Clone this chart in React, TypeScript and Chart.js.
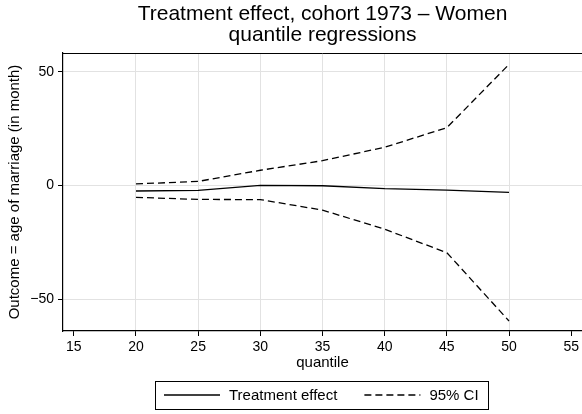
import React, { useEffect, useRef } from "react";
import { Chart, registerables } from "chart.js";

Chart.register(...registerables);

// ---- data ----
const quantiles = [20, 25, 30, 35, 40, 45, 50];
const treatmentEffect = [-2.4, -2.1, 0.1, -0.1, -1.4, -2.0, -3.0];
const ciUpper = [0.7, 1.8, 6.7, 10.9, 16.8, 25.4, 53.2];
const ciLower = [-5.2, -6.1, -6.2, -10.8, -19.2, -29.5, -59.5];
const xTicks = [15, 20, 25, 30, 35, 40, 45, 50, 55];
const yTicks = [-50, 0, 50];
const titleLines = ["Treatment effect, cohort 1973 \u2013 Women", "quantile regressions"];
const xTitle = "quantile";
const yTitle = "Outcome = age of marriage (in month)";
const seriesLabels = ["Treatment effect", "95% CI"];

const FONT = '"Liberation Sans", Arial, Helvetica, sans-serif';
const CI_DASH = [7, 4];
const GRID = "#e2e2e2";

const toPoints = (ys: number[]) => quantiles.map((q, i) => ({ x: q, y: ys[i] }));

const frameTop = {
  id: "frameTop",
  afterDraw(chart: any) {
    const { ctx, chartArea } = chart;
    ctx.save();
    ctx.strokeStyle = "#000";
    ctx.lineWidth = 1;
    const y = Math.round(chartArea.top) + 0.5;
    ctx.beginPath();
    ctx.moveTo(chartArea.left, y);
    ctx.lineTo(chartArea.right, y);
    ctx.stroke();
    ctx.restore();
  },
};

const boxedLegend = {
  id: "boxedLegend",
  afterDraw(chart: any) {
    const { ctx, chartArea } = chart;
    ctx.save();
    ctx.font = `15px ${FONT}`;
    const sample = 56;
    const gap = 9;
    const itemGap = 27;
    const pad = 9;
    const items = seriesLabels.map((label) => {
      const ds = chart.data.datasets.find((d: any) => d.label === label);
      return { label, dash: ds.borderDash || [], width: ds.borderWidth, w: ctx.measureText(label).width };
    });
    const total =
      pad * 2 + items.reduce((s, it) => s + sample + gap + it.w, 0) + itemGap * (items.length - 1);
    const cx = (chartArea.left + chartArea.right) / 2;
    const left = Math.round(cx - total / 2) - 1;
    const top = Math.round(chartArea.bottom + 50);
    const h = 28;
    ctx.strokeStyle = "#000";
    ctx.lineWidth = 1;
    ctx.strokeRect(left + 0.5, top + 0.5, Math.round(total), h);
    let x = left + pad;
    const yMid = top + h / 2;
    items.forEach((it) => {
      ctx.beginPath();
      ctx.setLineDash(it.dash);
      ctx.lineWidth = it.width;
      ctx.moveTo(x, yMid);
      ctx.lineTo(x + sample, yMid);
      ctx.stroke();
      ctx.setLineDash([]);
      x += sample + gap;
      ctx.fillStyle = "#000";
      ctx.textBaseline = "middle";
      ctx.textAlign = "left";
      ctx.fillText(it.label, x, yMid + 0.5);
      x += it.w + itemGap;
    });
    ctx.restore();
  },
};

export default function App() {
  const ref = useRef<HTMLCanvasElement | null>(null);

  useEffect(() => {
    if (!ref.current) return;
    const lineBase = { borderColor: "#000", borderWidth: 1.3, pointRadius: 0, tension: 0, fill: false };
    const chart = new Chart(ref.current, {
      type: "line",
      data: {
        datasets: [
          { ...lineBase, label: seriesLabels[0], data: toPoints(treatmentEffect) },
          { ...lineBase, label: seriesLabels[1], data: toPoints(ciUpper), borderDash: CI_DASH },
          { ...lineBase, label: seriesLabels[1] + " ", data: toPoints(ciLower), borderDash: CI_DASH },
        ],
      },
      options: {
        animation: false,
        responsive: false,
        devicePixelRatio: 1,
        layout: { padding: { top: 0, left: 0, right: 0, bottom: 42 } },
        plugins: {
          legend: { display: false },
          tooltip: { enabled: false },
          title: {
            display: true,
            text: titleLines,
            fullSize: false,
            color: "#000",
            font: { family: FONT, size: 21, weight: "normal", lineHeight: 1.0 },
            padding: { top: 4, bottom: 7 },
          },
        },
        scales: {
          x: {
            type: "linear",
            min: 14.13,
            max: 55.87,
            afterBuildTicks: (s: any) => {
              s.ticks = xTicks.map((v) => ({ value: v }));
            },
            afterFit: (s: any) => {
              s.height = 41;
            },
            ticks: {
              color: "#000",
              font: { family: FONT, size: 14 },
              padding: 3,
              maxRotation: 0,
              autoSkip: false,
            },
            grid: {
              color: (c: any) =>
                c.tick && c.tick.value >= quantiles[0] && c.tick.value <= quantiles[quantiles.length - 1]
                  ? GRID
                  : "rgba(0,0,0,0)",
              tickColor: "#000",
              tickLength: 5,
              lineWidth: 1,
            },
            border: { color: "#000", width: 1.2 },
            title: {
              display: true,
              text: xTitle,
              color: "#000",
              font: { family: FONT, size: 15, lineHeight: 1.2 },
              padding: { top: 0, bottom: 0 },
            },
          },
          y: {
            type: "linear",
            min: -63.9,
            max: 58.2,
            afterBuildTicks: (s: any) => {
              s.ticks = yTicks.map((v) => ({ value: v }));
            },
            afterFit: (s: any) => {
              s.width = 63;
            },
            ticks: {
              color: "#000",
              font: { family: FONT, size: 14 },
              padding: 4,
              callback: (v: any) => (Number(v) < 0 ? "\u2212" + Math.abs(Number(v)) : String(v)),
            },
            grid: { color: GRID, tickColor: "#000", tickLength: 5, lineWidth: 1 },
            border: { color: "#000", width: 1.2 },
            title: {
              display: true,
              text: yTitle,
              color: "#000",
              font: { family: FONT, size: 15, lineHeight: 1.2 },
              padding: { top: 5.5, bottom: 0 },
            },
          },
        },
      },
      plugins: [frameTop, boxedLegend],
    } as any);
    return () => chart.destroy();
  }, []);

  return (
    <div style={{ position: "absolute", left: 0, top: 0, width: 582, height: 414, background: "#fff" }}>
      <canvas ref={ref} width={582} height={414} style={{ display: "block", width: 582, height: 414 }} />
    </div>
  );
}
